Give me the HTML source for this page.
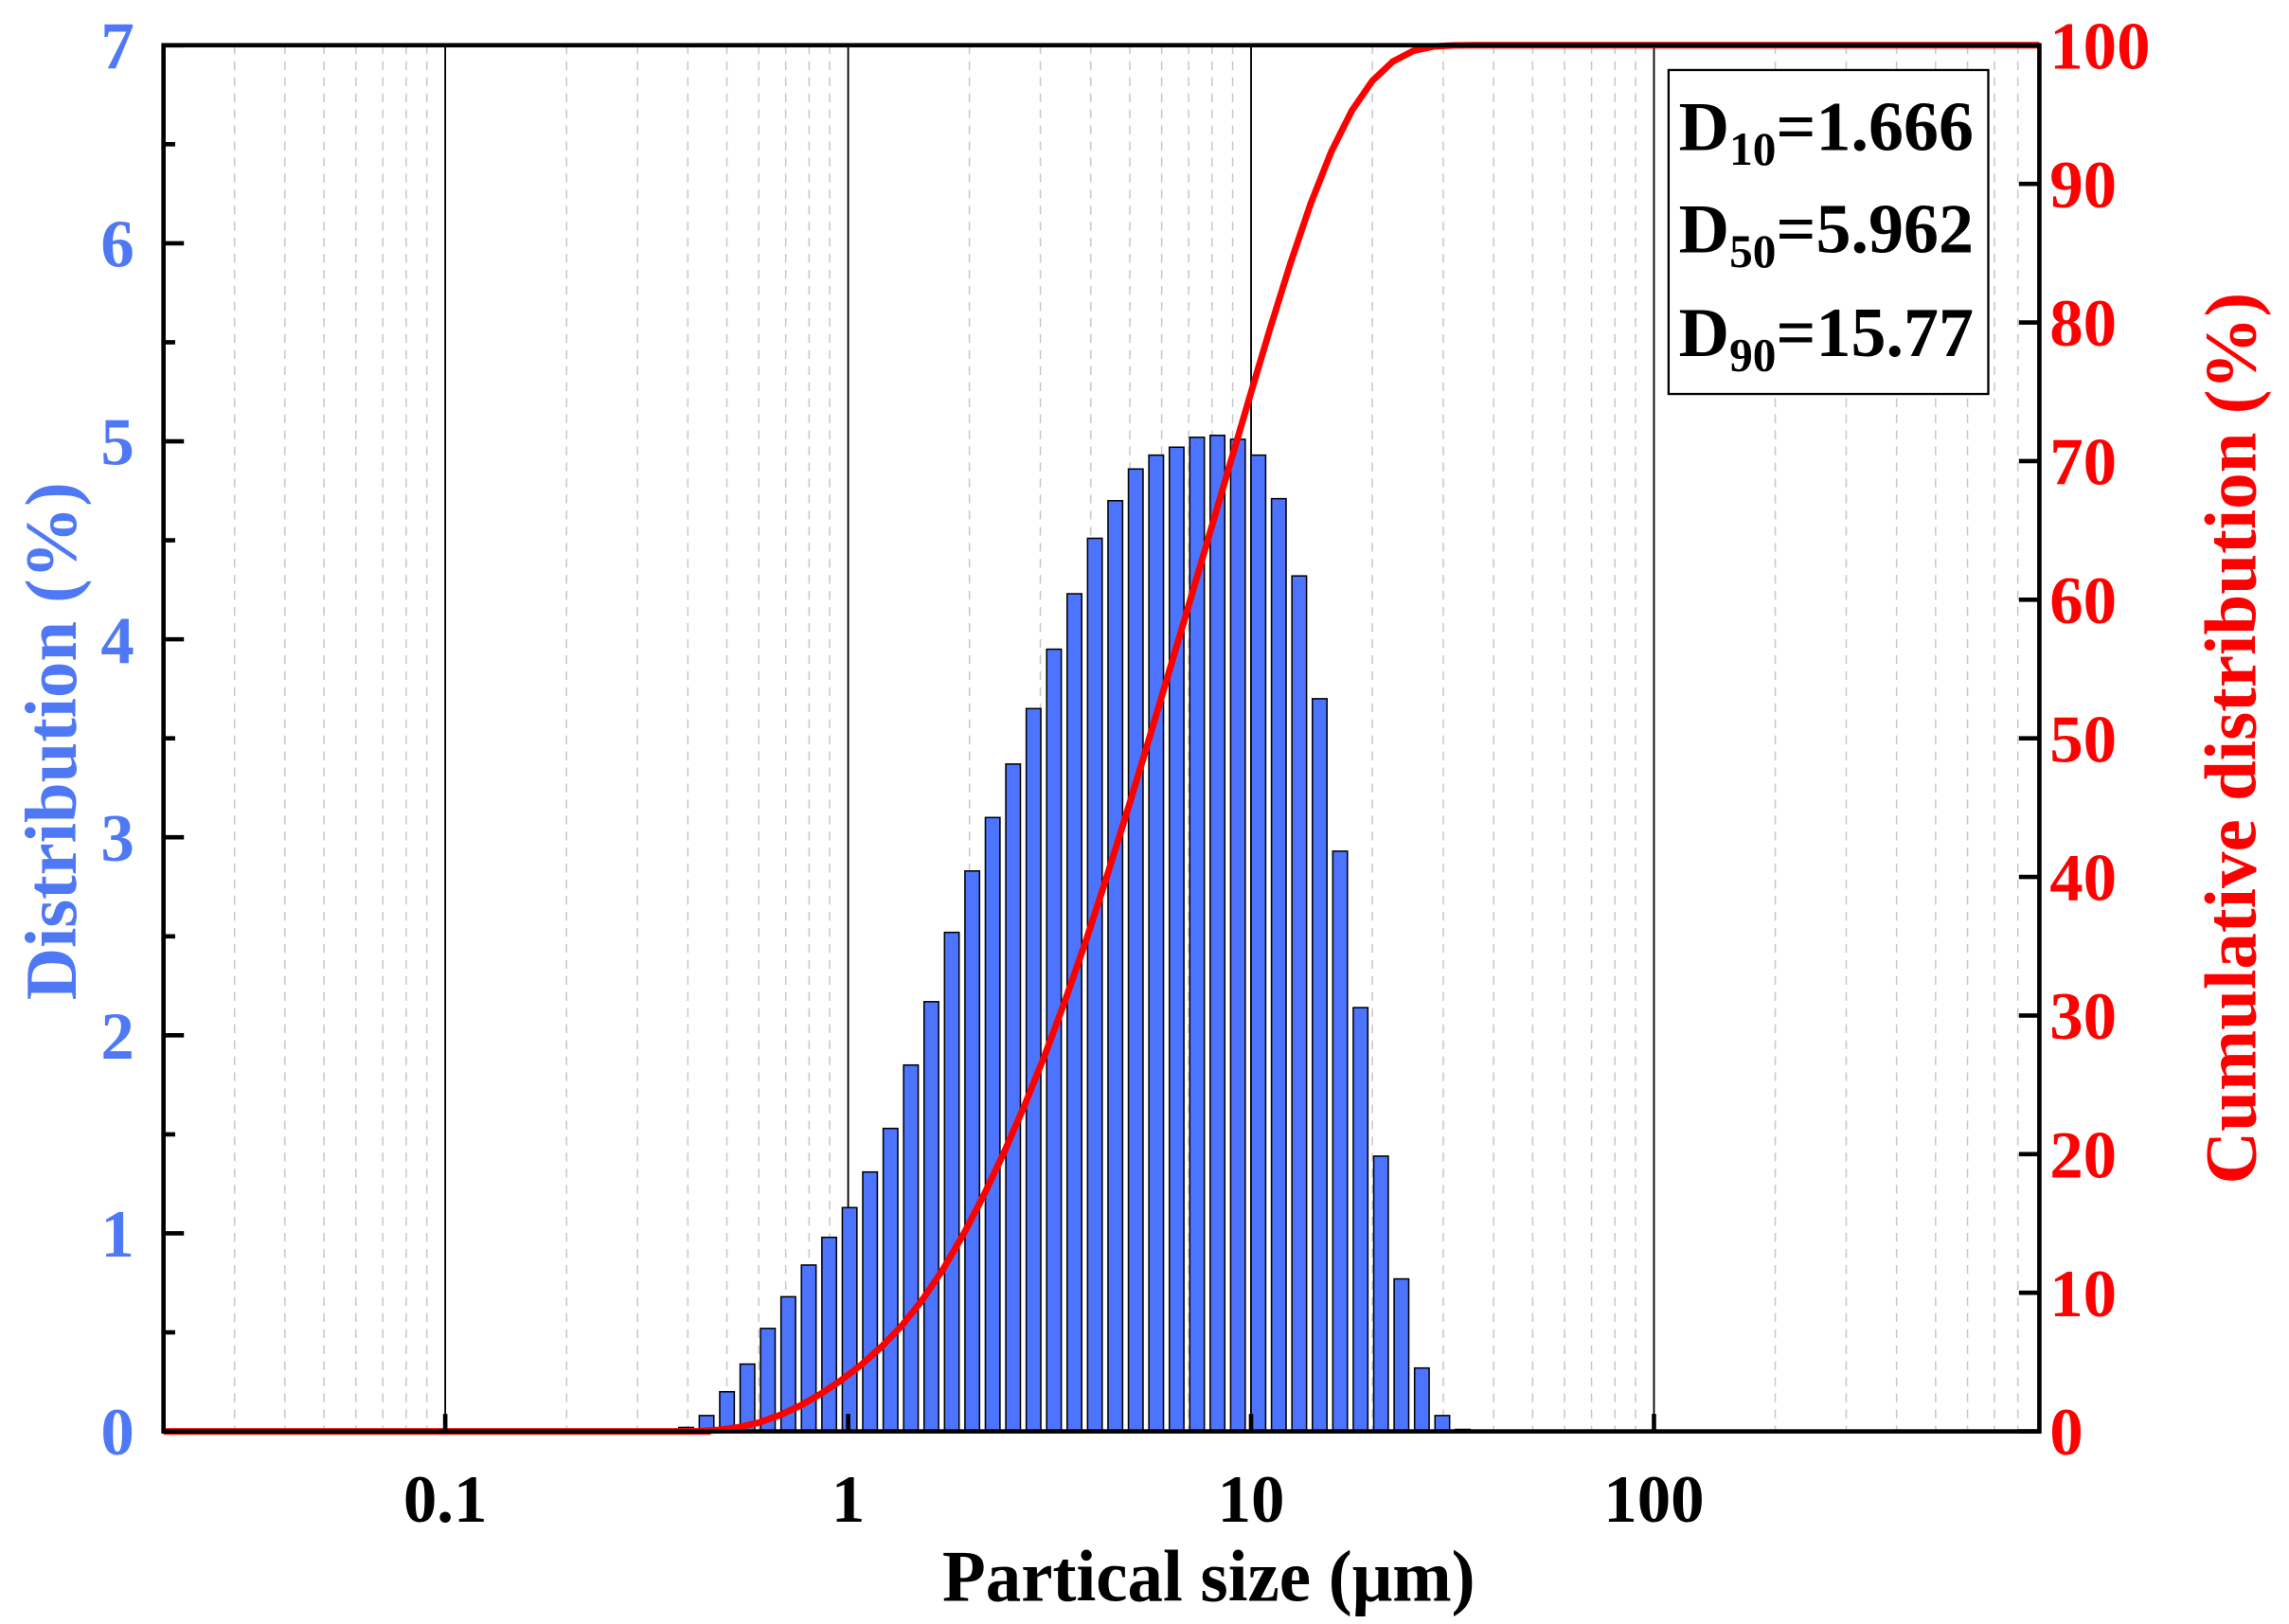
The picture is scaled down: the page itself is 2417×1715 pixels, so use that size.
<!DOCTYPE html>
<html><head><meta charset="utf-8"><style>
html,body{margin:0;padding:0;background:#fff}
svg{display:block}
text{font-family:"Liberation Serif",serif;font-weight:bold}
</style></head><body>
<svg id="s" width="2417" height="1715" viewBox="0 0 1568 1113" preserveAspectRatio="none" xmlns="http://www.w3.org/2000/svg">
<g id="grid"></g>
<g id="bars"></g>
<polyline id="cum" fill="none" stroke="#ff0000" stroke-width="4.5" stroke-linejoin="round"/>
<rect x="112" y="31" width="1285" height="950" fill="none" stroke="#000" stroke-width="3"/>
<g id="ticks"></g>
<g font-size="46" fill="#4f78f5" text-anchor="end" id="ly"></g>
<g font-size="46" fill="#ff0000" text-anchor="start" id="ry"></g>
<g font-size="46" fill="#000" text-anchor="middle">
<text x="305" y="1043">0.1</text><text x="581" y="1043">1</text><text x="857" y="1043">10</text><text x="1133" y="1043">100</text>
</g>
<text font-size="50" fill="#000" text-anchor="middle" x="828" y="1097" textLength="365" lengthAdjust="spacingAndGlyphs">Partical size (μm)</text>
<text font-size="50" fill="#4f78f5" text-anchor="middle" transform="translate(52,508) rotate(-90)" textLength="355" lengthAdjust="spacingAndGlyphs">Distribution (%)</text>
<text font-size="50" fill="#ff0000" text-anchor="middle" transform="translate(1545,506) rotate(-90)">Cumulative distribution (%)</text>
<rect x="1143" y="48" width="219" height="222" fill="#fff" stroke="#000" stroke-width="1.5"/>
<g font-size="48" fill="#000">
<text x="1150" y="103">D<tspan font-size="32" dy="10">10</tspan><tspan dy="-10">=1.666</tspan></text>
<text x="1150" y="173">D<tspan font-size="32" dy="10">50</tspan><tspan dy="-10">=5.962</tspan></text>
<text x="1150" y="244">D<tspan font-size="32" dy="10">90</tspan><tspan dy="-10">=15.77</tspan></text>
</g>
</svg>
<script>
var NS="http://www.w3.org/2000/svg";
function el(p,t,a){var e=document.createElementNS(NS,t);for(var k in a)e.setAttribute(k,a[k]);document.getElementById(p).appendChild(e);return e;}
var L=112,R=1397,T=31,B=981,dec=276,x1=581;
function X(v){return x1+Math.log10(v)*dec;}
for(var d=-2;d<=2;d++){for(var m=1;m<10;m++){var v=m*Math.pow(10,d);var x=X(v);if(x<=L||x>=R)continue;
 if(m==1){el("grid","line",{x1:x,y1:T,x2:x,y2:B,stroke:"#000","stroke-width":1.2});}
 else el("grid","line",{x1:x,y1:T,x2:x,y2:B,stroke:"#c8c8c8","stroke-width":1,"stroke-dasharray":"6,5"});}}
var h=[0.02,0.08,0.2,0.34,0.52,0.68,0.84,0.98,1.13,1.31,1.53,1.85,2.17,2.52,2.83,3.1,3.37,3.65,3.95,4.23,4.51,4.7,4.86,4.93,4.97,5.02,5.03,5.01,4.93,4.71,4.32,3.7,2.93,2.14,1.39,0.77,0.32,0.08,0.01];
var sy=(B-T)/7,tot=0;h.forEach(function(v){tot+=v});
var cum=0,pts=L+","+B+" 486,"+B;
for(var i=0;i<h.length;i++){var c=470+14*i;var hh=h[i]*sy;
 el("bars","rect",{x:c-5,y:B-hh,width:10,height:hh,fill:"#4d74ff",stroke:"#000","stroke-width":1});
 cum+=h[i];var p=cum/tot*100;pts+=" "+(c+8)+","+(B-p*(B-T)/100);}
pts+=" "+R+","+T;
document.getElementById("cum").setAttribute("points",pts);
for(var k=0;k<=14;k++){var y=B-k*sy/2;var len=k%2?8:14;el("ticks","line",{x1:L,y1:y,x2:L+len,y2:y,stroke:"#000","stroke-width":3});
 if(k%2==0){var t=el("ly","text",{x:92,y:y+16});t.textContent=k/2;}}
for(var k=0;k<=10;k++){var y=B-k*(B-T)/10;el("ticks","line",{x1:R,y1:y,x2:R-14,y2:y,stroke:"#000","stroke-width":3});
 var t=el("ry","text",{x:1404,y:y+16});t.textContent=k*10;}
[0.1,1,10,100].forEach(function(v){var x=X(v);el("ticks","line",{x1:x,y1:B,x2:x,y2:B-12,stroke:"#000","stroke-width":3});});
</script>
</body></html>
